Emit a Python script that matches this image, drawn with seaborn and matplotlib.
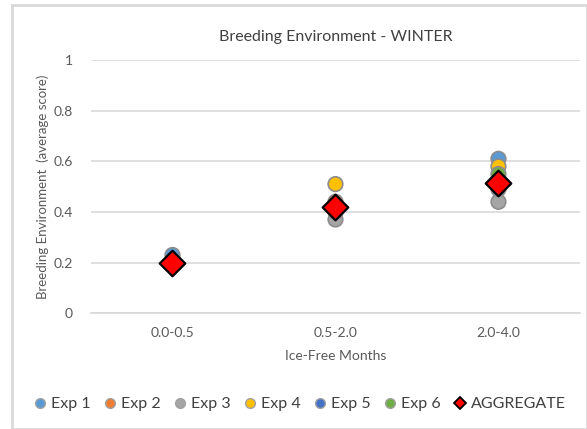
import pandas as pd
import seaborn as sns
import matplotlib.pyplot as plt
from matplotlib.patches import Rectangle
from matplotlib.lines import Line2D

# Data
categories = ['0.0-0.5', '0.5-2.0', '2.0-4.0']
exp1 = [0.23, 0.41, 0.61]
exp2 = [0.20, 0.44, 0.53]
exp3 = [0.20, 0.37, 0.44]
exp4 = [0.20, 0.51, 0.58]
exp5 = [0.20, 0.40, 0.49]
exp6 = [0.20, 0.42, 0.55]
aggregate = [0.20, 0.42, 0.515]

series_names = ['Exp 1', 'Exp 2', 'Exp 3', 'Exp 4', 'Exp 5', 'Exp 6']
series_values = [exp1, exp2, exp3, exp4, exp5, exp6]
colors = ['#5B9BD5', '#ED7D31', '#A5A5A5', '#FFC000', '#4472C4', '#70AD47']

rows = []
for name, vals in zip(series_names, series_values):
    for cat, v in zip(categories, vals):
        rows.append({'Months': cat, 'Score': v, 'Series': name})
df = pd.DataFrame(rows)
agg_df = pd.DataFrame({'Months': categories, 'Score': aggregate})

sns.set_style('white')
plt.rcParams['font.family'] = ['Lato', 'DejaVu Sans']
text_color = '#595959'

fig = plt.figure(figsize=(5.87, 4.29), dpi=100)
ax = fig.add_axes([0.155, 0.270, 0.833, 0.590])

# outer chart border
fig.patches.append(Rectangle((12 / 587, 0), 1 - 12 / 587, 1 - 5 / 429, transform=fig.transFigure,
                             fill=False, edgecolor='#D9D9D9', linewidth=2))

sns.scatterplot(data=df, x='Months', y='Score', hue='Series', palette=colors,
                s=110, edgecolor='#8C8C8C', linewidth=1.2, legend=False, ax=ax, zorder=3)
sns.scatterplot(data=agg_df, x='Months', y='Score', marker='D', color='#FF0000',
                s=170, edgecolor='black', linewidth=1.6, legend=False, ax=ax, zorder=4)

ax.set_xlim(-0.5, 2.5)
ax.set_ylim(0, 1)
ax.set_yticks([0, 0.2, 0.4, 0.6, 0.8, 1])
ax.set_yticklabels(['0', '0.2', '0.4', '0.6', '0.8', '1'])
ax.yaxis.grid(True, color='#D9D9D9', linewidth=1.2)
ax.set_axisbelow(True)
for s in ax.spines.values():
    s.set_visible(False)
ax.spines['bottom'].set_visible(True)
ax.spines['bottom'].set_color('#D9D9D9')
ax.spines['bottom'].set_linewidth(1.2)
ax.tick_params(axis='both', length=0, labelsize=10, colors=text_color, pad=13)
ax.tick_params(axis='x', pad=10)

ax.set_title('Breeding Environment - WINTER', fontsize=11.5, color='#404040', pad=14)
ax.set_xlabel('Ice-Free Months', fontsize=10, color=text_color, labelpad=8)
ax.set_ylabel('Breeding Environment  (average score)', fontsize=9.5, color=text_color, labelpad=3)

handles = [Line2D([], [], marker='o', linestyle='', markersize=7, markerfacecolor=c,
                  markeredgecolor='#A0A0A0', label=n) for n, c in zip(series_names, colors)]
handles.append(Line2D([], [], marker='D', linestyle='', markersize=6, markerfacecolor='#FF0000',
                      markeredgecolor='black', markeredgewidth=1.3, label='AGGREGATE'))
fig.legend(handles=handles, loc='center', bbox_to_anchor=(0.51, 0.058), ncol=7, frameon=False,
           fontsize=11.5, handlelength=0.9, handletextpad=0.2, columnspacing=0.8,
           labelcolor='#404040')

fig.savefig('out.png', dpi=100)
